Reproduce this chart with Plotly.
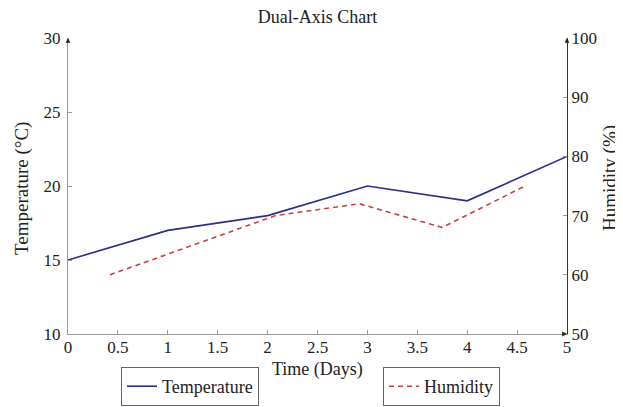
import plotly.graph_objects as go

# ---- data ----
days_temp = [0, 1, 2, 3, 4, 5]
temperature = [15, 17, 18, 20, 19, 22]
days_hum = [0.42, 1.25, 2.08, 2.92, 3.75, 4.58]
humidity = [60, 65, 70, 72, 68, 75]
x_ticks = [0, 0.5, 1, 1.5, 2, 2.5, 3, 3.5, 4, 4.5, 5]
temp_ticks = [10, 15, 20, 25, 30]
hum_ticks = [50, 60, 70, 80, 90, 100]

FONT = "Liberation Serif"
GREY = "#9a9a9a"
TXT = "#222222"

# page has an 8px body margin: paper is shifted by 8px, so size/margins compensate
W, H = 615, 399
ML, MR, MT, MB = 60, 56, 30, 73
PW = W - ML - MR  # plot width in px
PH = H - MT - MB  # plot height in px

fig = go.Figure()
fig.add_trace(go.Scatter(
    x=days_temp, y=temperature, mode="lines", name="Temperature",
    line=dict(color="#2c2d88", width=1.6), yaxis="y", legend="legend",
))
fig.add_trace(go.Scatter(
    x=days_hum, y=humidity, mode="lines", name="Humidity",
    line=dict(color="#c8413f", width=1.6, dash="5px,4px"), yaxis="y2",
    legend="legend2",
))

tickfont = dict(family=FONT, size=17, color=TXT)
leg_y = (334 - 406) / PH
fig.update_layout(
    width=W, height=H, showlegend=True,
    margin=dict(l=ML, r=MR, t=MT, b=MB, autoexpand=False),
    paper_bgcolor="white", plot_bgcolor="white",
    font=dict(family=FONT, size=17, color=TXT),
    title=dict(text="Dual-Axis Chart", x=0.5, xref="paper", xanchor="center",
               y=1 - 9 / H, yref="container", yanchor="middle",
               font=dict(family=FONT, size=18, color=TXT)),
    xaxis=dict(range=[0, 5], tickvals=x_ticks, ticktext=[str(v) for v in x_ticks],
               showline=True, linecolor=GREY, linewidth=1.3,
               ticks="inside", ticklen=4, tickcolor=GREY, showgrid=False,
               zeroline=False, tickfont=tickfont, automargin=False,
               ticklabelstandoff=-3),
    yaxis=dict(range=[10, 30], tickvals=temp_ticks, showline=True, linecolor=GREY,
               linewidth=1.3, ticks="inside", ticklen=4, tickcolor=GREY,
               showgrid=False, zeroline=False, tickfont=tickfont,
               automargin=False, ticklabelstandoff=3),
    yaxis2=dict(range=[50, 100], tickvals=hum_ticks, overlaying="y", side="right",
                anchor="x", showline=True, linecolor="#333", linewidth=1.2,
                ticks="inside", ticklen=4, tickcolor=GREY, showgrid=False,
                zeroline=False, tickfont=tickfont, automargin=False),
    legend=dict(x=(121 - 68) / PW, y=leg_y, xanchor="left", yanchor="bottom",
                orientation="h", bordercolor="#666", borderwidth=1,
                bgcolor="white", font=dict(family=FONT, size=18, color=TXT),
                itemwidth=30),
    legend2=dict(x=(383 - 68) / PW, y=leg_y, xanchor="left", yanchor="bottom",
                 orientation="h", bordercolor="#666", borderwidth=1,
                 bgcolor="white", font=dict(family=FONT, size=18, color=TXT),
                 itemwidth=30),
)

# axis titles as annotations (positions in page pixels converted to paper units)
fig.add_annotation(text="Time (Days)", xref="paper", yref="paper",
                   x=0.5, y=(334 - 369) / PH, xanchor="center", yanchor="middle",
                   showarrow=False, font=dict(family=FONT, size=18, color=TXT))
fig.add_annotation(text="Temperature (°C)", xref="paper", yref="paper",
                   x=(22 - 68) / PW, y=(334 - 189) / PH, xanchor="center",
                   yanchor="middle", textangle=-90, showarrow=False,
                   font=dict(family=FONT, size=19, color=TXT))
fig.add_annotation(text="Humidity (%)", xref="paper", yref="paper",
                   x=(610 - 68) / PW, y=(334 - 178) / PH, xanchor="center",
                   yanchor="middle", textangle=-90, showarrow=False,
                   font=dict(family=FONT, size=19, color=TXT))

# arrowheads at the axis ends
arrows = [
    dict(x=0, y=30, xref="x", yref="y", ax=0, ay=6),
    dict(x=5, y=10, xref="x", yref="y", ax=-6, ay=0),
    dict(x=5, y=100, xref="x", yref="y2", ax=0, ay=6),
]
for a in arrows:
    fig.add_annotation(text="", showarrow=True, arrowhead=2, arrowsize=0.8,
                       arrowwidth=1.2, arrowcolor="#222", **a)

fig.write_html("out.html")
